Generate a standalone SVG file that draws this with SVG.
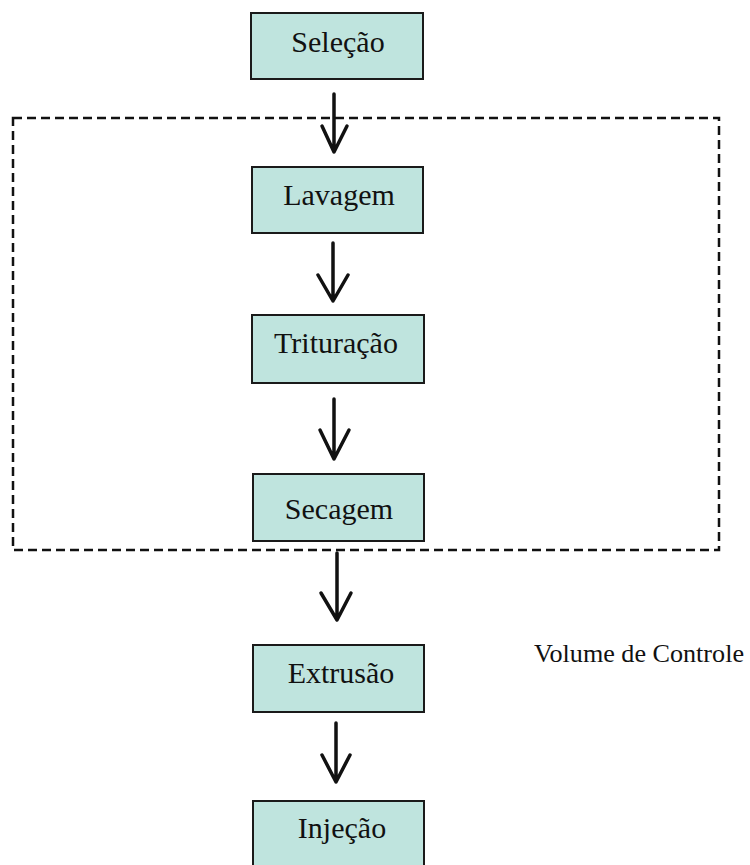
<svg xmlns="http://www.w3.org/2000/svg" width="750" height="865" viewBox="0 0 750 865">
  <style>
    .box { fill: #bfe4de; stroke: #1a1a1a; stroke-width: 2; }
    .lbl { font-family: "Liberation Serif", "Times New Roman", serif; font-size: 30px; fill: #111; text-anchor: middle; }
    .arrow { fill: none; stroke: #111; stroke-width: 3.5; stroke-linecap: round; stroke-linejoin: round; }
    .frame { fill: none; stroke: #111; stroke-width: 2.5; stroke-dasharray: 9 5; }
    .note { font-family: "Liberation Serif", "Times New Roman", serif; font-size: 26px; fill: #111; }
  </style>

  <!-- control volume boundary -->
  <rect class="frame" x="13" y="118" width="706" height="432"/>
  <text class="note" x="534" y="662" textLength="210" lengthAdjust="spacingAndGlyphs">Volume de Controle</text>

  <g id="connectors">
    <path class="arrow" d="M334 94 V152 M322 126 L334 152 L347 126"/>
    <path class="arrow" d="M333 243 V301 M318 275 L333 301 L348 275"/>
    <path class="arrow" d="M334 399 V459 M320 430 L334 459 L349 430"/>
    <path class="arrow" d="M337 553 V620 M321 593 L337 620 L351 593"/>
    <path class="arrow" d="M336 723 V782 M322 755 L336 782 L350 755"/>
  </g>

  <g id="selecao">
    <rect class="box" x="251" y="13" width="172" height="66"/>
    <text class="lbl" x="338" y="52">Seleção</text>
  </g>
  <g id="lavagem">
    <rect class="box" x="252" y="167" width="171" height="66"/>
    <text class="lbl" x="339" y="205">Lavagem</text>
  </g>
  <g id="trituracao">
    <rect class="box" x="252" y="315" width="172" height="68"/>
    <text class="lbl" x="336" y="353">Trituração</text>
  </g>
  <g id="secagem">
    <rect class="box" x="253" y="474" width="171" height="67"/>
    <text class="lbl" x="339" y="519">Secagem</text>
  </g>
  <g id="extrusao">
    <rect class="box" x="253" y="645" width="171" height="67"/>
    <text class="lbl" x="341" y="683">Extrusão</text>
  </g>
  <g id="injecao">
    <rect class="box" x="253" y="801" width="171" height="70"/>
    <text class="lbl" x="342" y="838">Injeção</text>
  </g>
</svg>
